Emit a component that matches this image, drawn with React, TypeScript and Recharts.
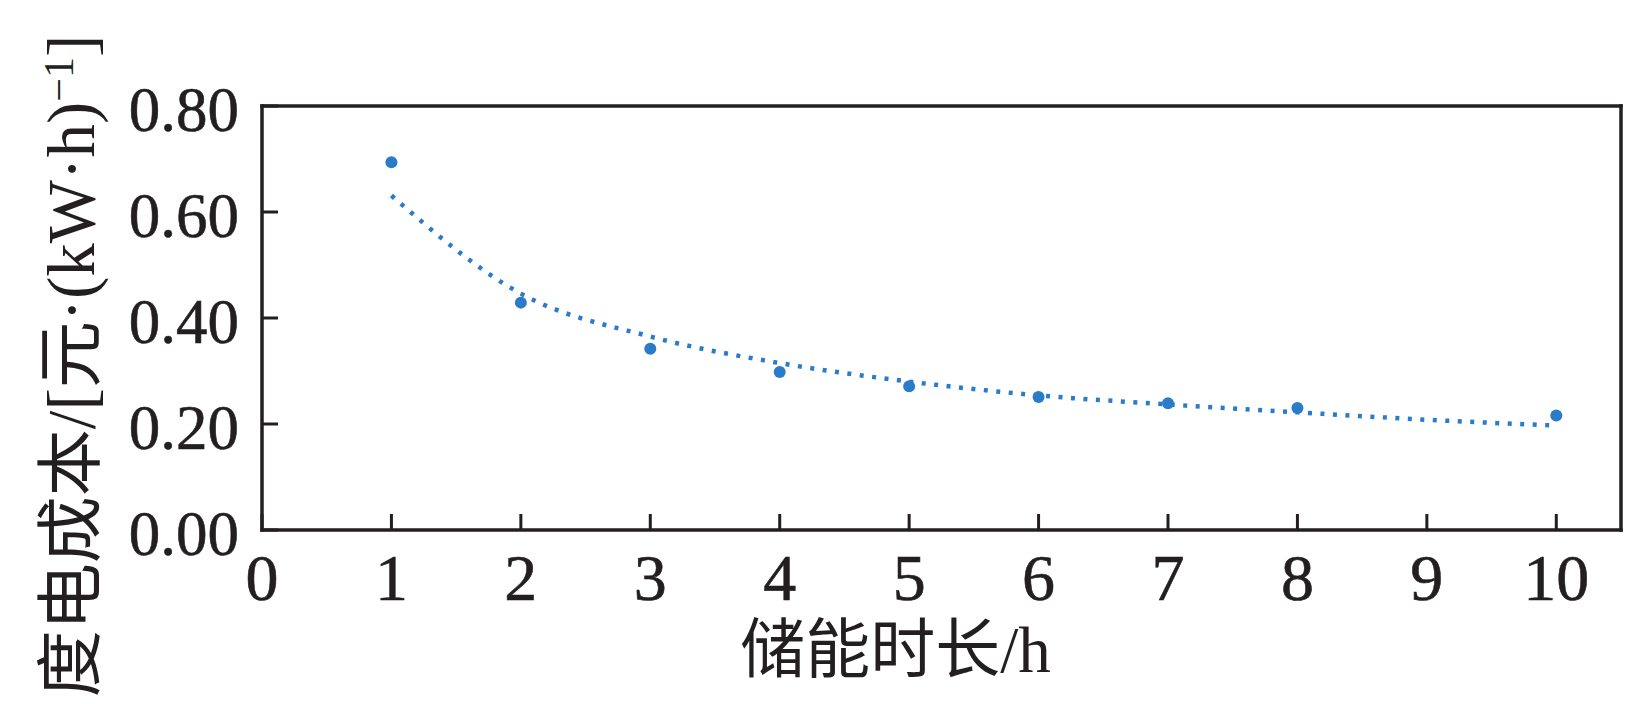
import React from "react"
import {
  ComposedChart,
  Line,
  Scatter,
  XAxis,
  YAxis,
  ReferenceLine,
  Label,
} from "recharts"

// measured cost per storage duration
const hours = [1, 2, 3, 4, 5, 6, 7, 8, 10]
const cost = [0.694, 0.429, 0.342, 0.298, 0.271, 0.251, 0.239, 0.23, 0.216]

// fitted trend curve
const fitHours = [1, 2, 3, 4, 5, 6, 7, 8, 9, 10]
const fitCost = [0.631, 0.446, 0.365, 0.315, 0.28, 0.254, 0.237, 0.222, 0.208, 0.197]

const xTicks = [0, 1, 2, 3, 4, 5, 6, 7, 8, 9, 10]
const yTicks = [0, 0.2, 0.4, 0.6, 0.8]

const INK = "#231f20"
const BLUE = "#2a7bca"
const FONT = '"Liberation Serif", "Noto Sans CJK SC", serif'

const points = hours.map((h, i) => ({ x: h, cost: cost[i] }))
const fit = fitHours.map((h, i) => ({ x: h, fit: fitCost[i] }))

function XTick({ x, y, payload }: any) {
  return (
    <g>
      <line x1={x} x2={x} y1={y} y2={y - 16} stroke={INK} strokeWidth={3} />
      <text x={x} y={y + 70} textAnchor="middle" fontSize={66} fontFamily={FONT} fill={INK} stroke={INK} strokeWidth={0.6}>
        {payload.value}
      </text>
    </g>
  )
}

function YTick({ x, y, payload }: any) {
  return (
    <g>
      <line x1={x} x2={x + 16} y1={y} y2={y} stroke={INK} strokeWidth={3} />
      <text x={x - 23} y={y + 24.5} textAnchor="end" fontSize={63} fontFamily={FONT} fill={INK} stroke={INK} strokeWidth={0.6}>
        {payload.value.toFixed(2)}
      </text>
    </g>
  )
}

function YTitle({ viewBox }: any) {
  const cx = viewBox.x + 94
  const cy = viewBox.y + viewBox.height / 2 + 48
  return (
    <text
      x={cx}
      y={cy}
      transform={`rotate(-90, ${cx}, ${cy})`}
      textAnchor="middle"
      fontSize={67}
      fontFamily={FONT}
      fill={INK}
    >
      度电成本/[元·(kW·h)
      <tspan fontSize={42} dy={-21}>−1</tspan>
      <tspan dy={21}>]</tspan>
    </text>
  )
}

function XTitle({ viewBox }: any) {
  return (
    <text
      x={viewBox.x + viewBox.width / 2 - 46}
      y={viewBox.y + 142}
      textAnchor="middle"
      fontSize={65}
      fontFamily={FONT}
      fill={INK}
    >
      储能时长/h
    </text>
  )
}

export default function App() {
  return (
    <div style={{ position: "absolute", left: 0, top: 0, width: 1644, height: 704, background: "#fff" }}>
      <ComposedChart width={1644} height={704} data={fit} margin={{ top: 106, right: 23, left: 0, bottom: 0 }}>
        <XAxis
          type="number"
          dataKey="x"
          domain={[0, 10.5]}
          ticks={xTicks}
          interval={0}
          height={174}
          tickSize={0}
          tickMargin={0}
          tickLine={false}
          tick={<XTick />}
          axisLine={{ stroke: INK, strokeWidth: 3.5, strokeLinecap: "square" }}
        >
          <Label content={<XTitle />} />
        </XAxis>
        <YAxis
          type="number"
          domain={[0, 0.8]}
          ticks={yTicks}
          interval={0}
          width={262}
          tickSize={0}
          tickMargin={0}
          tickLine={false}
          tick={<YTick />}
          axisLine={{ stroke: INK, strokeWidth: 3.5, strokeLinecap: "square" }}
        >
          <Label content={<YTitle />} />
        </YAxis>
        <ReferenceLine y={0.8} stroke={INK} strokeWidth={3.5} strokeLinecap="square" />
        <ReferenceLine x={10.5} stroke={INK} strokeWidth={3.5} strokeLinecap="square" />
        <Line
          type="monotone"
          dataKey="fit"
          stroke={BLUE}
          strokeWidth={4.5}
          strokeDasharray="4 8.5"
          dot={false}
          activeDot={false}
          isAnimationActive={false}
        />
        <Scatter
          data={points}
          dataKey="cost"
          fill={BLUE}
          shape={(p: any) => <circle cx={p.cx} cy={p.cy} r={6} fill={BLUE} />}
          isAnimationActive={false}
        />
      </ComposedChart>
    </div>
  )
}
